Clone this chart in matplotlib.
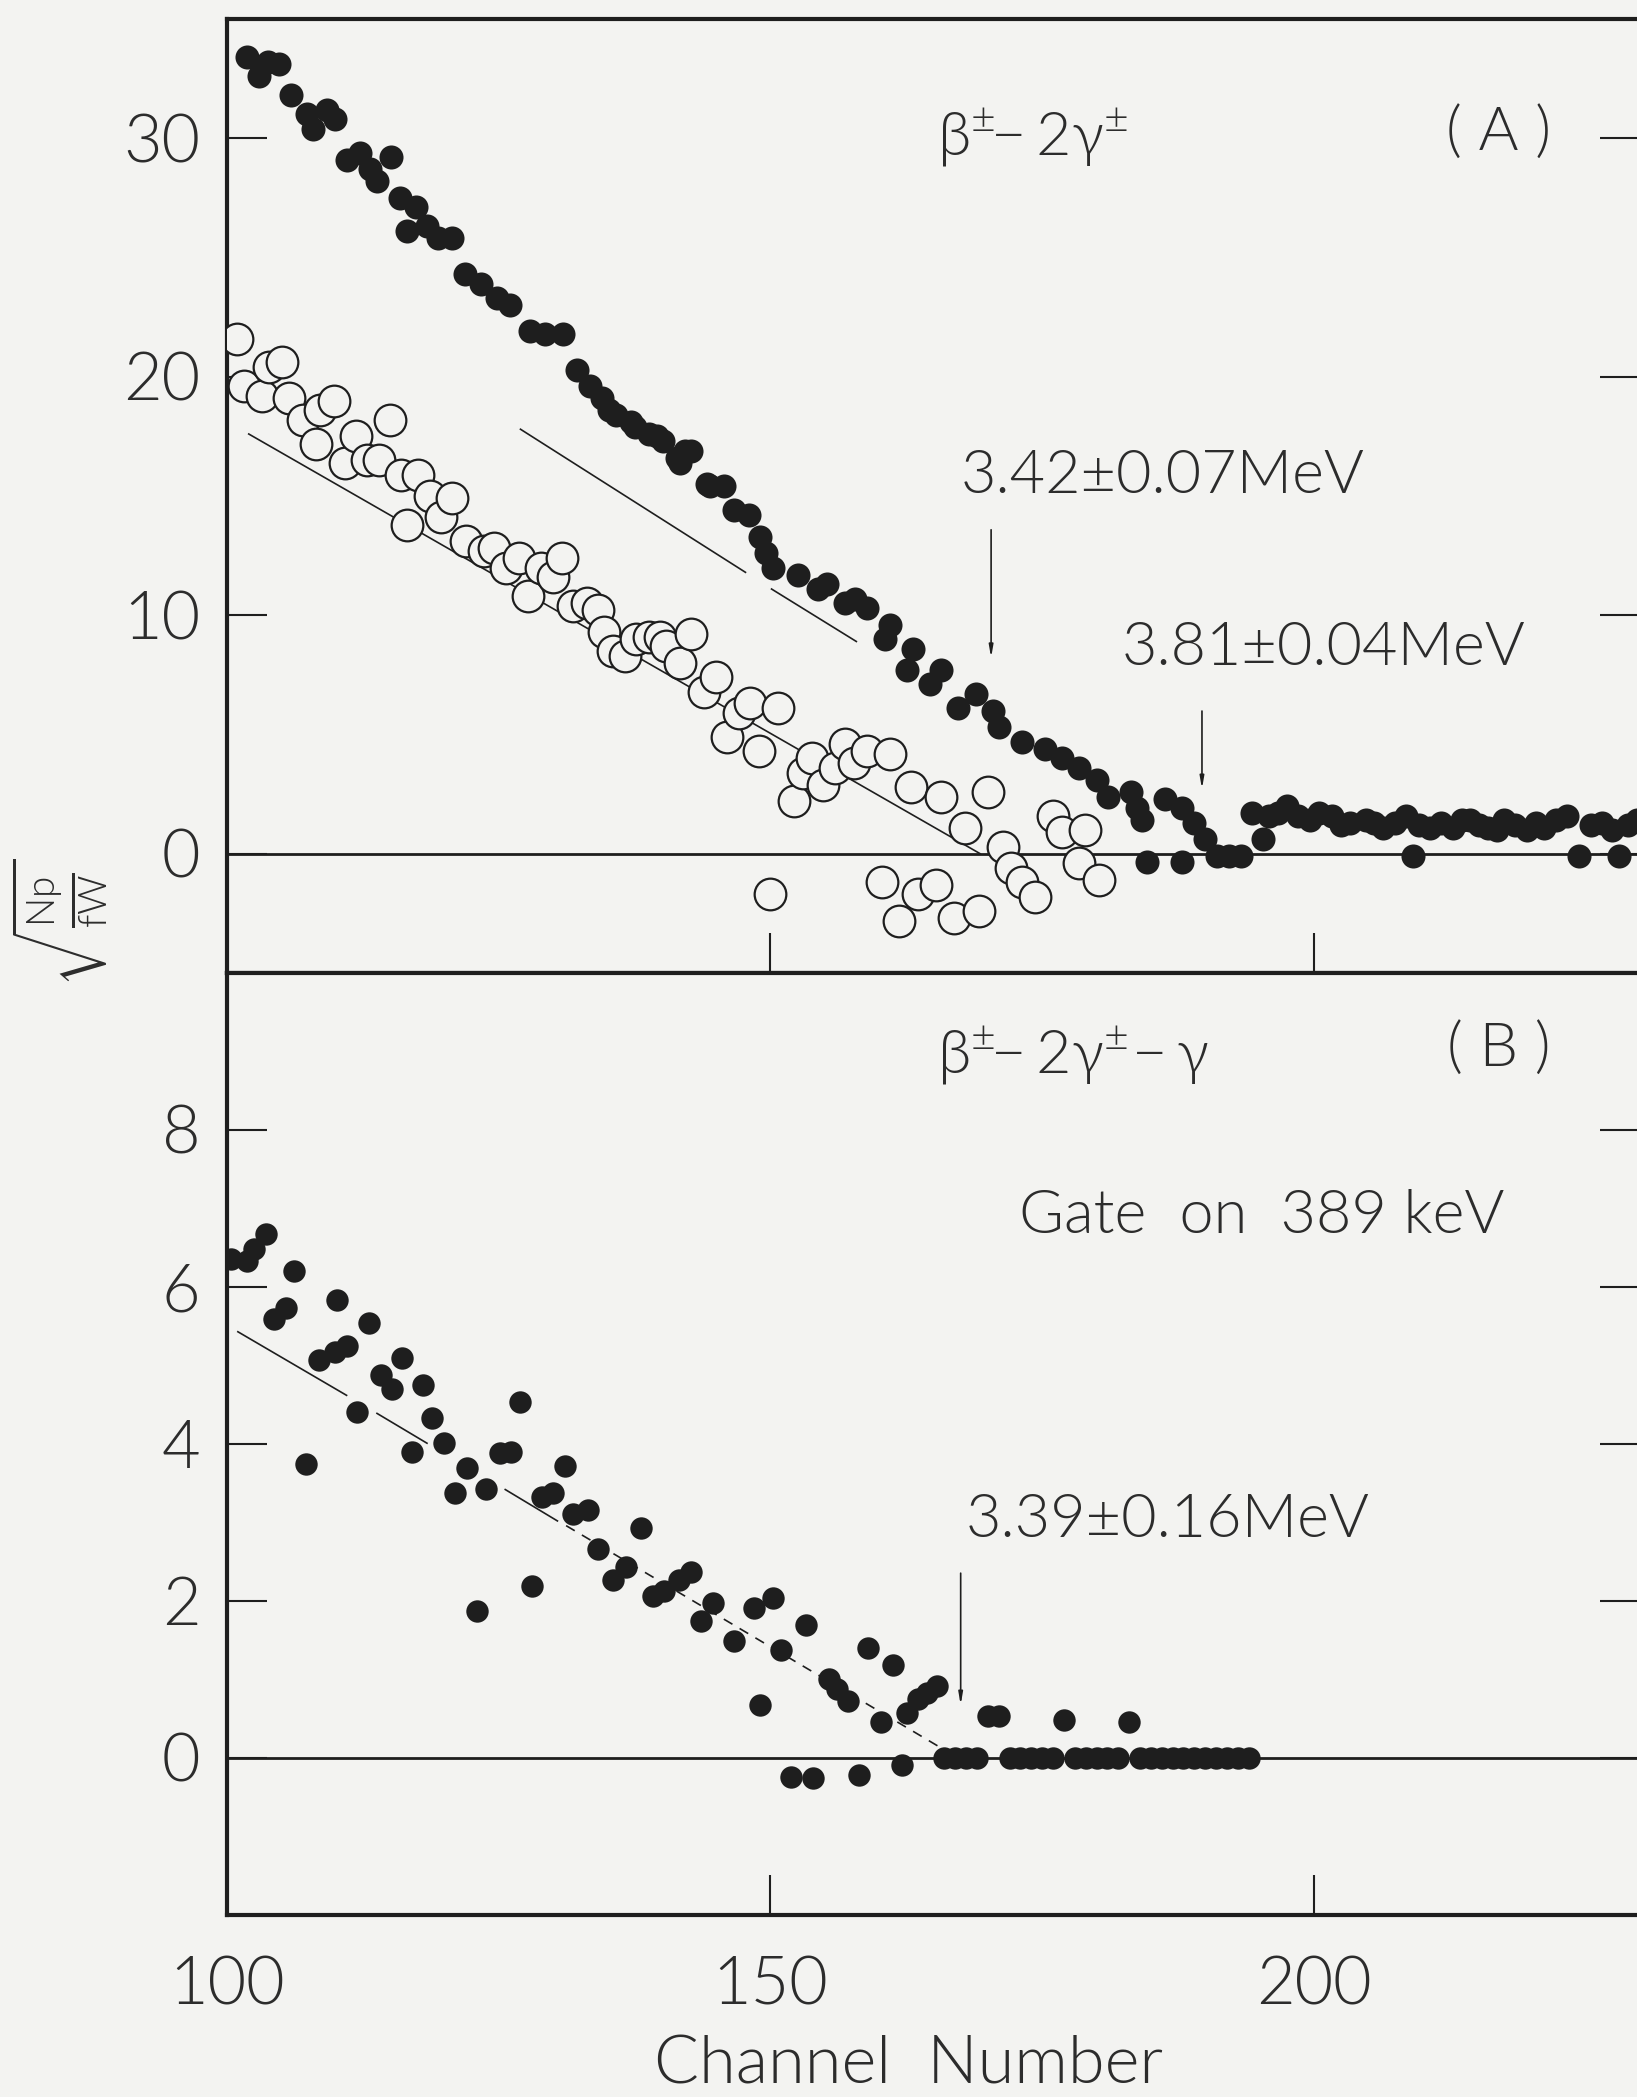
import matplotlib
matplotlib.use("Agg")
import matplotlib.pyplot as plt

plt.rcParams['font.family'] = ['Lato', 'DejaVu Sans']
plt.rcParams['font.weight'] = 300
plt.rcParams['mathtext.fontset'] = 'custom'
plt.rcParams['mathtext.rm'] = 'Lato:weight=300'
plt.rcParams['mathtext.it'] = 'Lato:italic:weight=300'
plt.rcParams['mathtext.bf'] = 'Lato:bold'

# ---------------- data ----------------
# (A) beta+ - 2 gamma(+-) coincidence, filled points
a_filled_ch = [101.8, 102.9, 103.8, 104.8, 105.9, 107.4, 107.9, 109.2, 109.9, 111.0,
               112.2, 113.2, 113.8, 115.1, 115.9, 116.6, 117.4, 118.4, 119.4, 120.7,
               121.9, 123.4, 124.8, 126.0, 127.9, 129.3, 130.9, 132.2, 133.4, 134.5,
               135.1, 135.8, 137.2, 137.5, 138.8, 139.6, 140.1, 141.4, 141.7, 142.1,
               142.7, 144.2, 144.4, 145.7, 146.6, 148.0, 149.0, 149.6, 150.2, 152.5,
               154.4, 155.2, 156.9, 157.8, 158.9, 160.5, 161.0, 162.6, 163.1, 164.7,
               165.7, 167.3, 168.9, 170.5, 171.0, 173.1, 175.3, 176.8, 178.4, 180.0,
               181.1, 183.2, 183.7, 184.2, 184.6, 186.3, 187.9, 187.9, 189.0, 190.0,
               191.1, 192.2, 193.3, 194.3, 195.3, 195.9, 196.7, 197.5, 198.5, 199.6,
               200.5, 201.7, 202.5, 203.3, 204.8, 205.5, 206.4, 207.5, 208.5, 209.1,
               209.7, 210.7, 211.7, 212.8, 213.6, 214.4, 215.2, 216.0, 216.8, 217.5,
               218.5, 219.6, 220.4, 221.2, 222.3, 223.3, 224.4, 225.5, 226.5, 227.4,
               228.1, 228.9, 229.7]
a_filled_val = [33.4, 32.6, 33.2, 33.1, 31.8, 31.0, 30.4, 31.2, 30.8, 29.1,
                29.4, 28.7, 28.2, 29.2, 27.5, 26.1, 27.1, 26.3, 25.8, 25.8,
                24.3, 23.9, 23.3, 23.0, 21.9, 21.8, 21.8, 20.3, 19.6, 19.1,
                18.6, 18.4, 18.1, 17.9, 17.6, 17.5, 17.3, 16.6, 16.4, 16.9,
                16.9, 15.5, 15.4, 15.4, 14.4, 14.2, 13.3, 12.6, 12.0, 11.7,
                11.1, 11.3, 10.5, 10.7, 10.3, 9.0, 9.6, 7.7, 8.6, 7.1,
                7.7, 6.1, 6.7, 6.0, 5.3, 4.7, 4.4, 4.0, 3.6, 3.1,
                2.4, 2.6, 1.9, 1.4, -0.35, 2.3, 1.9, -0.35, 1.3, 0.6,
                -0.1, -0.1, -0.1, 1.7, 0.6, 1.6, 1.7, 2.0, 1.6, 1.4,
                1.7, 1.6, 1.2, 1.3, 1.4, 1.3, 1.1, 1.3, 1.6, -0.1,
                1.2, 1.1, 1.3, 1.1, 1.4, 1.4, 1.2, 1.1, 1.0, 1.4,
                1.2, 1.0, 1.3, 1.1, 1.4, 1.6, -0.1, 1.2, 1.3, 1.0,
                -0.1, 1.2, 1.4]

# (A) open points
a_open_ch = [100.9, 101.6, 103.2, 103.9, 105.1, 105.7, 107.0, 108.2, 108.6, 109.8,
             110.9, 111.9, 112.9, 114.0, 115.0, 116.0, 116.6, 117.6, 118.7, 119.7,
             120.7, 122.0, 123.6, 124.6, 125.7, 126.9, 127.7, 128.9, 130.0, 130.8,
             131.8, 133.1, 134.1, 134.7, 135.5, 136.6, 137.6, 138.8, 139.8, 140.4,
             141.7, 142.7, 143.9, 145.0, 146.0, 147.1, 148.1, 148.9, 150.0, 150.7,
             152.2, 153.0, 153.8, 154.8, 155.9, 156.9, 157.7, 158.9, 160.3, 161.0,
             161.8, 162.9, 163.6, 165.2, 165.7, 166.9, 167.9, 169.2, 170.0, 171.4,
             172.1, 173.1, 174.3, 176.0, 176.8, 178.4, 178.9, 180.2]
a_open_val = [21.6, 19.6, 19.2, 20.4, 20.6, 19.1, 18.2, 17.2, 18.6, 19.0,
              16.4, 17.5, 16.5, 16.5, 18.2, 15.9, 13.8, 15.9, 15.0, 14.1,
              14.9, 13.1, 12.7, 12.8, 12.0, 12.4, 10.8, 12.0, 11.6, 12.4,
              10.4, 10.5, 10.2, 9.3, 8.5, 8.3, 9.0, 9.1, 9.1, 8.7,
              8.0, 9.2, 6.8, 7.4, 4.9, 5.9, 6.3, 4.3, -1.7, 6.1,
              2.2, 3.4, 4.0, 2.9, 3.6, 4.6, 3.8, 4.3, -1.2, 4.2,
              -2.8, 2.8, -1.7, -1.3, 2.4, -2.7, 1.1, -2.4, 2.6, 0.3,
              -0.6, -1.2, -1.8, 1.6, 0.9, -0.4, 1.0, -1.1]

# straight-line extrapolations (segment endpoints)
a_fit_filled_ch = [[127.0, 147.7], [150.1, 157.9]]
a_fit_filled_val = [[17.8, 11.8], [11.1, 8.9]]
a_fit_open_ch = [102.0, 169.3]
a_fit_open_val = [17.6, 0.0]

# (B) beta+ - 2 gamma(+-) - gamma, gate on 389 keV
b_ch = [100.4, 101.8, 102.5, 103.6, 104.3, 105.4, 106.2, 107.3, 108.5, 109.9,
        110.1, 111.0, 112.0, 113.1, 114.2, 115.2, 116.1, 117.0, 118.0, 118.9,
        120.0, 121.0, 122.1, 123.0, 123.8, 125.1, 126.1, 127.0, 128.1, 129.0,
        130.0, 131.1, 131.8, 133.2, 134.1, 135.5, 136.7, 138.1, 139.2, 140.2,
        141.6, 142.7, 143.6, 144.7, 146.6, 148.5, 149.0, 150.2, 151.0, 151.9,
        153.3, 153.9, 155.4, 156.1, 157.1, 158.1, 159.0, 160.2, 161.3, 162.1,
        162.6, 163.6, 164.4, 165.3, 166.0, 167.0, 168.0, 169.0, 170.0, 171.0,
        172.0, 173.0, 174.0, 175.0, 176.0, 177.0, 178.0, 179.0, 180.0, 181.0,
        182.0, 183.0, 184.0, 185.0, 186.0, 187.0, 188.0, 189.0, 190.0, 191.0,
        192.0, 193.0, 194.0]
b_val = [6.36, 6.33, 6.49, 6.68, 5.59, 5.73, 6.20, 3.74, 5.07, 5.17,
         5.83, 5.25, 4.41, 5.54, 4.88, 4.70, 5.09, 3.90, 4.75, 4.33,
         4.01, 3.38, 3.69, 1.87, 3.43, 3.88, 3.90, 4.54, 2.19, 3.32,
         3.37, 3.72, 3.11, 3.16, 2.66, 2.27, 2.43, 2.93, 2.06, 2.13,
         2.27, 2.37, 1.74, 1.97, 1.49, 1.91, 0.68, 2.04, 1.38, -0.24,
         1.69, -0.26, 1.01, 0.88, 0.72, -0.22, 1.40, 0.46, 1.18, -0.09,
         0.57, 0.75, 0.83, 0.92, 0.0, 0.0, 0.0, 0.0, 0.53, 0.53,
         0.0, 0.0, 0.0, 0.0, 0.0, 0.48, 0.0, 0.0, 0.0, 0.0,
         0.0, 0.46, 0.0, 0.0, 0.0, 0.0, 0.0, 0.0, 0.0, 0.0,
         0.0, 0.0, 0.0]
b_fit_ch = [[101.0, 111.0], [113.8, 118.4], [125.6, 130.4], [131.2, 165.8]]
b_fit_val = [[5.43, 4.62], [4.39, 4.01], [3.42, 3.02], [2.96, 0.12]]

x_ticks = [100, 150, 200]
a_yticks = [0, 10, 20, 30]
b_yticks = [0, 2, 4, 6, 8]

# ---------------- style ----------------
PAPER = '#f3f3f1'
INK = '#1e1e1e'
TXT = '#2c2c2c'
W, H = 1637, 2097

fig = plt.figure(figsize=(W / 100, H / 100), dpi=100)
fig.patch.set_facecolor(PAPER)

left = 227 / W
width = (1640 - 227) / W
axA = fig.add_axes([left, 1 - 973 / H, width, (973 - 19) / H])
axB = fig.add_axes([left, 1 - 1915 / H, width, (1915 - 973) / H])

for ax in (axA, axB):
    ax.set_facecolor(PAPER)
    for s in ax.spines.values():
        s.set_linewidth(3.0)
        s.set_color(INK)
    ax.set_xlim(100, 230)
    ax.tick_params(axis='both', direction='in', length=29, width=1.5,
                   color=INK, labelcolor=TXT, labelsize=48)
    ax.tick_params(axis='y', left=True, right=True, pad=19)
    ax.tick_params(axis='x', top=False, bottom=True, pad=30)
    ax.axhline(0, color=INK, lw=2.0, zorder=1)

# panel A
axA.set_ylim(-5, 35)
axA.set_yticks(a_yticks)
axA.set_xticks([150, 200])
axA.tick_params(axis='x', labelbottom=False)

for xs, ys in zip(a_fit_filled_ch, a_fit_filled_val):
    axA.plot(xs, ys, color=INK, lw=1.2, zorder=2)
axA.plot(a_fit_open_ch, a_fit_open_val, color=INK, lw=1.2, zorder=2)

axA.scatter(a_open_ch, a_open_val, s=520, facecolor=PAPER, edgecolor=INK,
            linewidth=1.6, zorder=3)
axA.scatter(a_filled_ch, a_filled_val, s=300, color=INK, linewidth=0, zorder=4)

axA.text(165.3, 30.0, r'$\mathrm{\beta^{\pm}\!\!-2\gamma^{\pm}}$', fontsize=44,
         color=TXT, ha='left', va='center')
axA.text(217, 30.2, '( A )', fontsize=44, color=TXT, ha='center', va='center')
axA.text(167.5, 15.8, '3.42±0.07MeV', fontsize=44, color=TXT,
         ha='left', va='center')
axA.text(182.3, 8.6, '3.81±0.04MeV', fontsize=44, color=TXT,
         ha='left', va='center')
arrow = dict(arrowstyle='-|>,head_length=0.7,head_width=0.12', color=INK, lw=1.2)
axA.annotate('', xy=(170.3, 8.1), xytext=(170.3, 13.7), arrowprops=arrow)
axA.annotate('', xy=(189.7, 2.6), xytext=(189.7, 6.1), arrowprops=arrow)

# panel B
axB.set_ylim(-2, 10)
axB.set_yticks(b_yticks)
axB.set_xticks(x_ticks)
axB.set_xticklabels([str(t) for t in x_ticks])

for xs, ys in zip(b_fit_ch[:3], b_fit_val[:3]):
    axB.plot(xs, ys, color=INK, lw=1.2, zorder=2)
axB.plot(b_fit_ch[3], b_fit_val[3], color=INK, lw=1.2, zorder=2,
         dashes=(6, 5))

axB.scatter(b_ch, b_val, s=260, color=INK, linewidth=0, zorder=4)

axB.text(165.3, 8.94, r'$\mathrm{\beta^{\pm}\!\!-2\gamma^{\pm}\!-\gamma}$',
         fontsize=44, color=TXT, ha='left', va='center')
axB.text(217, 9.03, '( B )', fontsize=44, color=TXT, ha='center', va='center')
axB.text(172.9, 6.9, 'Gate  on  389 keV', fontsize=44, color=TXT,
         ha='left', va='center')
axB.text(168.0, 3.03, '3.39±0.16MeV', fontsize=44, color=TXT,
         ha='left', va='center')
axB.annotate('', xy=(167.5, 0.64), xytext=(167.5, 2.39), arrowprops=arrow)

fig.text(60 / W, 1 - 923 / H, r'$\sqrt{\mathrm{\frac{Np}{fW}}}$', rotation=90,
         fontsize=40, color=TXT, ha='center', va='center')
fig.text(909 / W, 1 - 2066 / H, 'Channel  Number', fontsize=48, color=TXT,
         ha='center', va='center')

fig.savefig('out.png', dpi=100, facecolor=PAPER)
